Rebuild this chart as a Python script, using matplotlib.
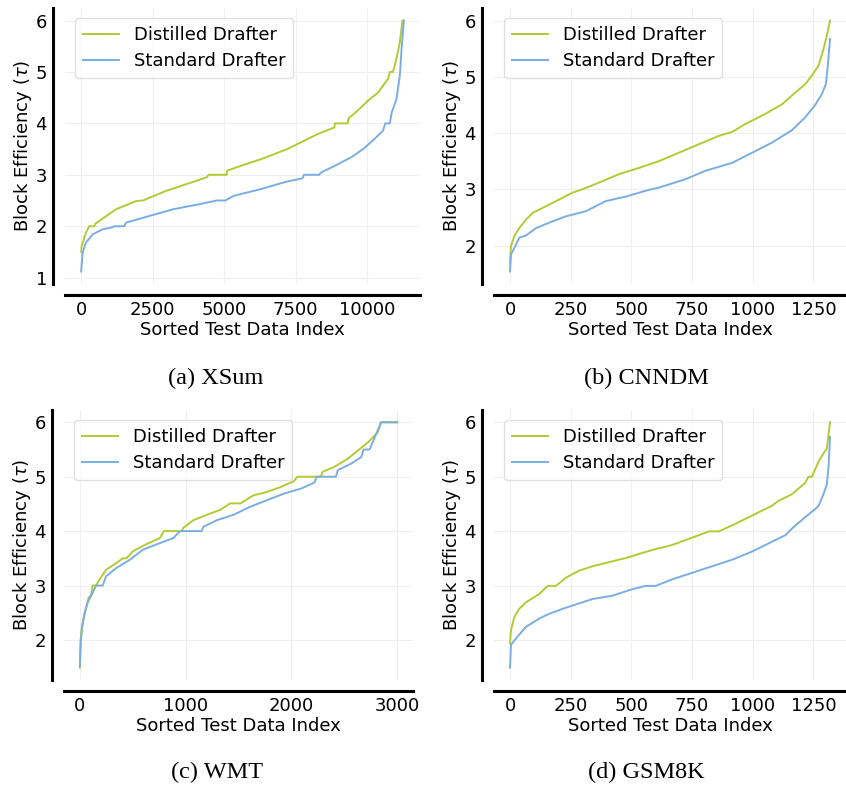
import matplotlib
matplotlib.use("Agg")
import matplotlib.pyplot as plt

# ---------------- data ----------------
titles = ["(a) XSum", "(b) CNNDM", "(c) WMT", "(d) GSM8K"]
series_names = ["Distilled Drafter", "Standard Drafter"]

# (a) XSum
xsum_dist_idx = [0, 20, 165, 280, 460, 500, 1220, 1925, 2160, 2980, 3685, 4390, 4450, 5090, 5100,
                 5560, 6270, 6740, 7200, 7680, 8260, 8850, 8870, 9320, 9350, 9670, 10020, 10380,
                 10730, 10790, 10900, 11020, 11140, 11230]
xsum_dist_val = [1.5, 1.62, 1.87, 2.0, 2.0, 2.05, 2.33, 2.49, 2.5, 2.69, 2.82, 2.95, 3.0, 3.0, 3.08,
                 3.17, 3.3, 3.4, 3.5, 3.63, 3.79, 3.92, 4.0, 4.0, 4.1, 4.25, 4.44, 4.6,
                 4.87, 5.0, 5.0, 5.26, 5.58, 6.0]
xsum_std_idx = [0, 50, 165, 400, 750, 1100, 1160, 1510, 1570, 2390, 3220, 4150, 4740, 5040, 5330,
                6270, 7200, 7730, 7790, 8320, 8400, 8850, 9440, 9900, 10260, 10550, 10630, 10790,
                10850, 11020, 11140, 11200, 11280]
xsum_std_val = [1.12, 1.48, 1.68, 1.84, 1.94, 1.98, 2.0, 2.0, 2.07, 2.2, 2.33, 2.43, 2.5, 2.5, 2.59,
                2.72, 2.87, 2.93, 3.0, 3.0, 3.05, 3.17, 3.34, 3.52, 3.7, 3.86, 4.0, 4.0,
                4.2, 4.47, 4.93, 5.45, 6.0]

# (b) CNNDM
cnn_dist_idx = [0, 4, 18, 38, 66, 93, 148, 203, 257, 298, 367, 449, 531, 613, 695, 777, 860, 915,
                969, 1051, 1120, 1175, 1216, 1243, 1271, 1291, 1305, 1318]
cnn_dist_val = [1.69, 1.99, 2.17, 2.31, 2.46, 2.58, 2.70, 2.82, 2.94, 3.0, 3.12, 3.27, 3.38, 3.5,
                3.65, 3.8, 3.95, 4.02, 4.16, 4.34, 4.51, 4.72, 4.87, 5.02, 5.2, 5.49, 5.73, 6.0]
cnn_std_idx = [0, 4, 25, 38, 66, 107, 175, 230, 312, 394, 476, 572, 613, 723, 805, 915, 997, 1079,
               1161, 1216, 1257, 1284, 1301, 1309, 1318]
cnn_std_val = [1.54, 1.84, 2.02, 2.14, 2.18, 2.31, 2.43, 2.52, 2.61, 2.79, 2.87, 2.99, 3.03, 3.18,
               3.33, 3.47, 3.65, 3.83, 4.05, 4.28, 4.5, 4.69, 4.87, 5.2, 5.67]

# (c) WMT
wmt_dist_idx = [0, 6, 19, 41, 73, 105, 120, 152, 184, 248, 343, 406, 440, 502, 629, 756, 794, 962,
                978, 1073, 1200, 1327, 1422, 1517, 1644, 1771, 1898, 2025, 2057, 2279, 2295, 2406,
                2533, 2629, 2724, 2819, 2844, 3000]
wmt_dist_val = [1.49, 1.98, 2.23, 2.47, 2.68, 2.8, 3.0, 3.0, 3.11, 3.29, 3.41, 3.5, 3.5, 3.63, 3.76,
                3.87, 4.0, 4.0, 4.06, 4.2, 4.3, 4.39, 4.51, 4.51, 4.66, 4.72, 4.81, 4.92, 5.0, 5.0,
                5.09, 5.18, 5.33, 5.48, 5.63, 5.82, 6.0, 6.0]
wmt_std_idx = [0, 10, 25, 51, 83, 120, 152, 216, 248, 343, 470, 597, 756, 883, 946, 1152, 1168,
               1295, 1454, 1613, 1771, 1930, 2089, 2216, 2241, 2422, 2438, 2565, 2660, 2683, 2740,
               2787, 2851, 3000]
wmt_std_val = [1.52, 2.01, 2.29, 2.53, 2.77, 2.86, 3.0, 3.0, 3.17, 3.32, 3.47, 3.66, 3.78, 3.87,
               4.0, 4.0, 4.08, 4.2, 4.3, 4.45, 4.57, 4.69, 4.78, 4.89, 5.0, 5.0, 5.12, 5.24, 5.36,
               5.5, 5.5, 5.72, 6.0, 6.0]

# (d) GSM8K
gsm_dist_idx = [0, 4, 18, 38, 66, 120, 155, 189, 230, 285, 340, 421, 476, 586, 668, 723, 778, 819,
                860, 915, 997, 1079, 1106, 1161, 1216, 1229, 1243, 1271, 1291, 1305, 1318]
gsm_dist_val = [1.95, 2.19, 2.43, 2.58, 2.70, 2.85, 3.0, 3.0, 3.15, 3.28, 3.36, 3.45, 3.51, 3.66,
                3.75, 3.84, 3.93, 4.0, 4.0, 4.11, 4.29, 4.47, 4.56, 4.68, 4.89, 5.0, 5.0, 5.28,
                5.43, 5.52, 6.0]
gsm_std_idx = [0, 4, 25, 66, 120, 162, 230, 340, 421, 504, 559, 600, 668, 750, 832, 915, 997, 1079,
               1134, 1168, 1216, 1257, 1271, 1291, 1305, 1312, 1318]
gsm_std_val = [1.5, 1.92, 2.04, 2.25, 2.4, 2.49, 2.6, 2.76, 2.82, 2.94, 3.0, 3.0, 3.12, 3.24, 3.36,
               3.48, 3.63, 3.81, 3.93, 4.08, 4.26, 4.41, 4.47, 4.68, 4.86, 5.19, 5.73]

x_ticks = [[0, 2500, 5000, 7500, 10000], [0, 250, 500, 750, 1000, 1250],
           [0, 1000, 2000, 3000], [0, 250, 500, 750, 1000, 1250]]
y_ticks = [[1, 2, 3, 4, 5, 6], [2, 3, 4, 5, 6], [2, 3, 4, 5, 6], [2, 3, 4, 5, 6]]

panels = [
    ((xsum_dist_idx, xsum_dist_val), (xsum_std_idx, xsum_std_val)),
    ((cnn_dist_idx, cnn_dist_val), (cnn_std_idx, cnn_std_val)),
    ((wmt_dist_idx, wmt_dist_val), (wmt_std_idx, wmt_std_val)),
    ((gsm_dist_idx, gsm_dist_val), (gsm_std_idx, gsm_std_val)),
]

# ---------------- styling ----------------
colors = ["#b5c935", "#7aaee2"]
W, H = 846, 788
fig = plt.figure(figsize=(W / 100, H / 100), dpi=100)

# axes boxes in pixels: left, top, right, bottom
boxes = [(65, 8, 420, 284), (494, 8, 846, 284), (64, 410, 413, 680), (494, 410, 846, 680)]
cap_pos = [(216, 378), (646, 378), (217, 772), (646, 772)]

for i, (box, data) in enumerate(zip(boxes, panels)):
    l, t, r, b = box
    ax = fig.add_axes([l / W, 1 - b / H, (r - l) / W, (b - t) / H])
    for (xs, ys), c, name in zip(data, colors, series_names):
        ax.plot(xs, ys, color=c, lw=1.4, label=name)
    ax.set_xticks(x_ticks[i])
    ax.set_yticks(y_ticks[i])
    ax.grid(True, color="#efefef", lw=0.8)
    ax.set_axisbelow(True)
    for s in ["top", "right"]:
        ax.spines[s].set_visible(False)
    ax.spines["left"].set_position(("outward", 9))
    ax.spines["bottom"].set_position(("outward", 8))
    ax.spines["left"].set_linewidth(2.2)
    ax.spines["bottom"].set_linewidth(2.2)
    ax.spines["left"].set_color("black")
    ax.spines["bottom"].set_color("black")
    ax.tick_params(axis="both", length=0, labelsize=13, pad=4)
    ax.set_xlabel("Sorted Test Data Index", fontsize=13, labelpad=2)
    ax.set_ylabel("Block Efficiency ($\\tau$)", fontsize=13, labelpad=1)
    ax.legend(loc="upper left", fontsize=13, handlelength=2.0, handletextpad=0.8,
              frameon=True, edgecolor="#d9d9d9", fancybox=True, borderpad=0.45,
              labelspacing=0.45, bbox_to_anchor=(0.0, 1.0), borderaxespad=0.55)
    cx, cy = cap_pos[i]
    fig.text(cx / W, 1 - cy / H, titles[i], ha="center", va="center",
             fontsize=17.5, family="Liberation Serif")

fig.savefig("out.png", dpi=100)
